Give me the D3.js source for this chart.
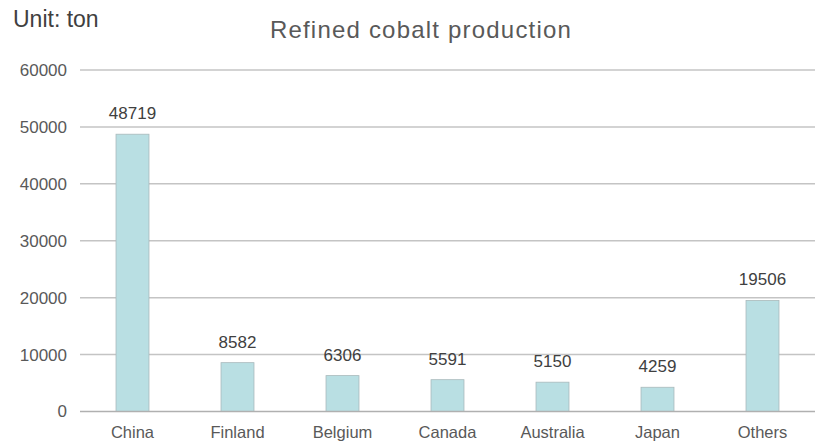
<!DOCTYPE html>
<html>
<head>
<meta charset="utf-8">
<script src="https://cdn.jsdelivr.net/npm/d3@7"></script>
<style>
  body { margin: 0; background: #fff; }
  text { font-family: "Liberation Sans", Arial, sans-serif; }
</style>
</head>
<body>
<div id="chart"></div>
<script>
// data
let countries = ["China", "Finland", "Belgium", "Canada", "Australia", "Japan", "Others"]
let production = [48719, 8582, 6306, 5591, 5150, 4259, 19506]
let yTicks = [0, 10000, 20000, 30000, 40000, 50000, 60000]

let width = 821
let height = 448
let margin = { top: 70, right: 6, bottom: 36.5, left: 80 }

let svg = d3.select("#chart").append("svg")
  .attr("width", width)
  .attr("height", height)

let x = d3.scaleBand()
  .domain(countries)
  .range([margin.left, width - margin.right])
  .paddingInner(0.686)
  .paddingOuter(0.343)

let y = d3.scaleLinear()
  .domain([0, 60000])
  .range([height - margin.bottom, margin.top])

// gridlines
svg.append("g")
  .selectAll("line")
  .data(yTicks.slice(1))
  .enter()
  .append("line")
  .attr("x1", margin.left)
  .attr("x2", width - margin.right)
  .attr("y1", d => y(d))
  .attr("y2", d => y(d))
  .style("stroke", "#c4c4c4")
  .style("stroke-width", 1.5)

// y axis labels
let yAxis = d3.axisLeft(y).tickValues(yTicks).tickFormat(d3.format("d")).tickSize(0).tickPadding(13)
svg.append("g")
  .attr("transform", "translate(" + margin.left + ",0)")
  .call(yAxis)
  .call(g => g.select(".domain").remove())
  .selectAll("text")
  .style("font-size", "17px")
  .style("fill", "#595959")

// bars
svg.append("g")
  .selectAll("rect")
  .data(production)
  .enter()
  .append("rect")
  .attr("x", (d, i) => x(countries[i]))
  .attr("y", d => y(d))
  .attr("width", x.bandwidth())
  .attr("height", d => y(0) - y(d))
  .style("fill", "#b9dfe3")
  .style("stroke", "#a9b9bb")
  .style("stroke-width", 0.8)

// x axis
let xAxis = d3.axisBottom(x).tickSize(0).tickPadding(15)
svg.append("g")
  .attr("transform", "translate(0," + y(0) + ")")
  .call(xAxis)
  .call(g => g.select(".domain")
    .attr("d", "M" + margin.left + ",0H" + (width - margin.right))
    .style("stroke", "#b0b0b0")
    .style("stroke-width", 1.5))
  .selectAll("text")
  .style("font-size", "16.5px")
  .style("fill", "#595959")

// value labels
svg.append("g")
  .selectAll("text")
  .data(production)
  .enter()
  .append("text")
  .attr("x", (d, i) => x(countries[i]) + x.bandwidth() / 2)
  .attr("y", d => y(d) - 15)
  .attr("text-anchor", "middle")
  .style("font-size", "17px")
  .style("fill", "#404040")
  .text(d => d)

// titles
svg.append("text")
  .attr("x", 421)
  .attr("y", 38)
  .attr("text-anchor", "middle")
  .style("font-size", "24px")
  .style("letter-spacing", "1.2px")
  .style("fill", "#595959")
  .text("Refined cobalt production")

svg.append("text")
  .attr("x", 13)
  .attr("y", 27)
  .style("font-size", "23px")
  .style("fill", "#404040")
  .text("Unit: ton")
</script>
</body>
</html>
